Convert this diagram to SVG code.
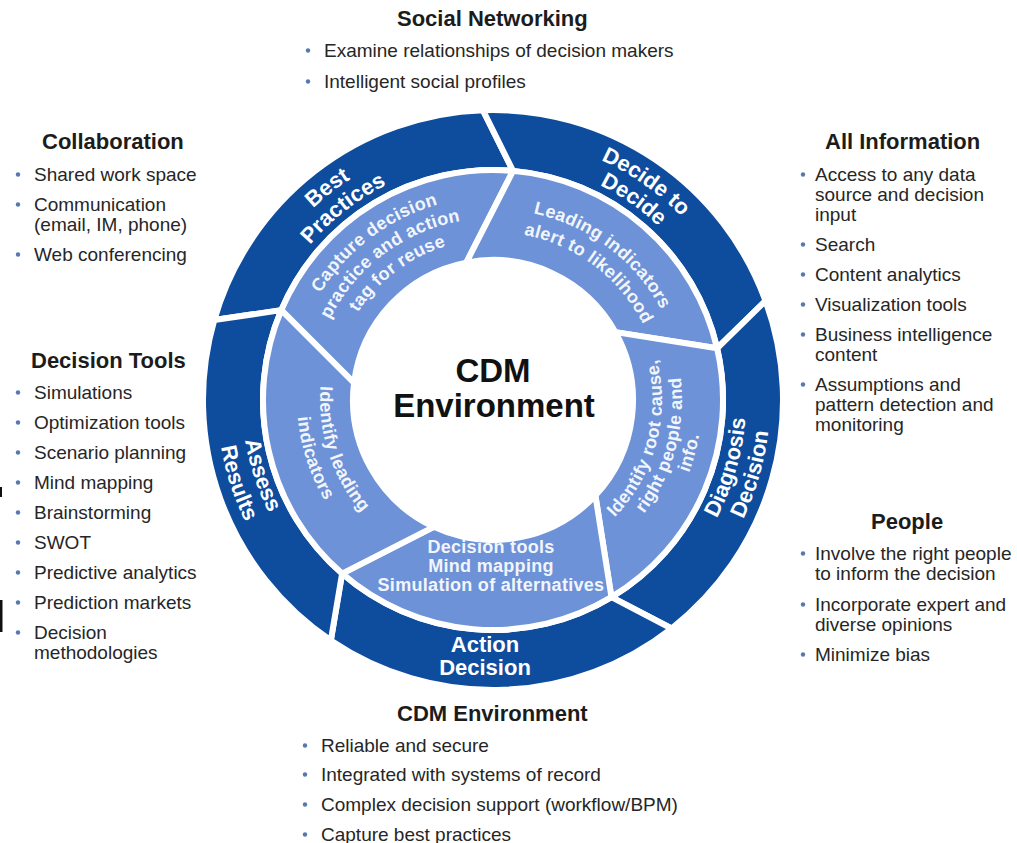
<svg xmlns="http://www.w3.org/2000/svg" xmlns:xlink="http://www.w3.org/1999/xlink" width="1017" height="843" viewBox="0 0 1017 843">
  <style>
    .seg-dark { fill: #0E4C9D; stroke: #ffffff; stroke-width: 6; stroke-linejoin: round; }
    .seg-light { fill: #6D92D7; stroke: #ffffff; stroke-width: 6; stroke-linejoin: round; }
    .lbl-dark { font-family: "Liberation Sans", Arial, sans-serif; font-weight: bold; font-size: 22px; fill: #ffffff; text-anchor: middle; }
    .lbl-light { font-family: "Liberation Sans", Arial, sans-serif; font-weight: bold; font-size: 18px; fill: #F2F5FC; text-anchor: middle; letter-spacing: 0.3px; }
    .core { font-family: "Liberation Sans", Arial, sans-serif; font-weight: bold; font-size: 33px; fill: #111111; text-anchor: middle; }
    .hd { font-family: "Liberation Sans", Arial, sans-serif; font-weight: bold; font-size: 22px; fill: #1c1c1c; }
    .it { font-family: "Liberation Sans", Arial, sans-serif; font-size: 19px; fill: #262626; }
    .bul { fill: #5778AE; }
  </style>
  <defs>
    <!-- outer ring label arcs -->
    <path id="arc-bp1" d="M242.87,481.27 A263,263 0 0 1 632.37,176.96"/>
    <path id="arc-bp2" d="M264.75,474.16 A240,240 0 0 1 620.18,196.47"/>
    <path id="arc-dd1" d="M342.15,184.56 A263,263 0 0 1 747.04,468.07"/>
    <path id="arc-dd2" d="M355.34,203.40 A240,240 0 0 1 724.82,462.12"/>
    <path id="arc-dg1" d="M510.65,652.38 A253,253 0 0 0 641.71,195.32"/>
    <path id="arc-dg2" d="M512.32,676.32 A277,277 0 0 0 655.82,175.90"/>
    <path id="arc-ar1" d="M338.47,202.21 A251,251 0 0 0 484.24,650.85"/>
    <path id="arc-ar2" d="M323.08,182.51 A276,276 0 0 0 483.37,675.83"/>
    <!-- inner ring label arcs -->
    <path id="arc-cp1" d="M298.87,459.35 A203,203 0 0 1 603.56,229.75"/>
    <path id="arc-cp2" d="M318.95,453.21 A182,182 0 0 1 592.12,247.36"/>
    <path id="arc-cp3" d="M339.04,447.07 A161,161 0 0 1 580.69,264.97"/>
    <path id="arc-li1" d="M388.97,239.81 A191,191 0 0 1 675.65,455.84"/>
    <path id="arc-li2" d="M401.50,259.10 A168,168 0 0 1 653.66,449.12"/>
    <path id="arc-rc1" d="M507.73,568.36 A169,169 0 0 0 589.93,261.56"/>
    <path id="arc-rc2" d="M509.47,588.28 A189,189 0 0 0 601.41,245.18"/>
    <path id="arc-rc3" d="M511.22,608.20 A209,209 0 0 0 612.88,228.80"/>
    <path id="arc-il1" d="M386.49,263.67 A173,173 0 0 0 486.96,572.89"/>
    <path id="arc-il2" d="M372.33,245.55 A196,196 0 0 0 486.16,595.88"/>
  </defs>

  <rect width="1017" height="843" fill="#ffffff"/>

  <!-- outer ring: decision stages -->
  <g id="stage-best-practices">
    <path class="seg-dark" d="M214.23,320.06 A290,290 0 0 1 482.88,110.18 L513.05,170.88 A230,230 0 0 0 281.28,310.13 Z"/>
    <text class="lbl-dark"><textPath xlink:href="#arc-bp1" href="#arc-bp1" startOffset="50%">Best</textPath></text>
    <text class="lbl-dark"><textPath xlink:href="#arc-bp2" href="#arc-bp2" startOffset="50%">Practices</textPath></text>
  </g>
  <g id="stage-decide-to-decide">
    <path class="seg-dark" d="M482.88,110.18 A290,290 0 0 1 765.51,300.81 L717.11,348.26 A230,230 0 0 0 513.05,170.88 Z"/>
    <text class="lbl-dark"><textPath xlink:href="#arc-dd1" href="#arc-dd1" startOffset="50%">Decide to</textPath></text>
    <text class="lbl-dark"><textPath xlink:href="#arc-dd2" href="#arc-dd2" startOffset="50%">Decide</textPath></text>
  </g>
  <g id="stage-diagnosis-decision">
    <path class="seg-dark" d="M765.51,300.81 A290,290 0 0 1 671.54,628.52 L611.46,597.15 A230,230 0 0 0 717.11,348.26 Z"/>
    <text class="lbl-dark"><textPath xlink:href="#arc-dg1" href="#arc-dg1" startOffset="50%">Diagnosis</textPath></text>
    <text class="lbl-dark"><textPath xlink:href="#arc-dg2" href="#arc-dg2" startOffset="50%">Decision</textPath></text>
  </g>
  <g id="stage-action-decision">
    <path class="seg-dark" d="M671.54,628.52 A290,290 0 0 1 330.83,640.42 L342.11,573.58 A230,230 0 0 0 611.46,597.15 Z"/>
    <text class="lbl-dark" x="485" y="652">Action</text>
    <text class="lbl-dark" x="485" y="675">Decision</text>
  </g>
  <g id="stage-assess-results">
    <path class="seg-dark" d="M330.83,640.42 A290,290 0 0 1 214.23,320.06 L281.28,310.13 A230,230 0 0 0 342.11,573.58 Z"/>
    <text class="lbl-dark"><textPath xlink:href="#arc-ar1" href="#arc-ar1" startOffset="50%">Assess</textPath></text>
    <text class="lbl-dark"><textPath xlink:href="#arc-ar2" href="#arc-ar2" startOffset="50%">Results</textPath></text>
  </g>

  <!-- inner ring: activities -->
  <g id="activity-capture">
    <path class="seg-light" d="M281.28,310.13 A230,230 0 0 1 513.05,170.88 L466.29,262.57 A140,140 0 0 0 354.04,382.94 Z"/>
    <text class="lbl-light"><textPath xlink:href="#arc-cp1" href="#arc-cp1" startOffset="50%">Capture decision</textPath></text>
    <text class="lbl-light"><textPath xlink:href="#arc-cp2" href="#arc-cp2" startOffset="50%">practice and action</textPath></text>
    <text class="lbl-light"><textPath xlink:href="#arc-cp3" href="#arc-cp3" startOffset="50%">tag for reuse</textPath></text>
  </g>
  <g id="activity-leading-alert">
    <path class="seg-light" d="M513.05,170.88 A230,230 0 0 1 717.11,348.26 L615.45,332.13 A140,140 0 0 0 466.29,262.57 Z"/>
    <text class="lbl-light"><textPath xlink:href="#arc-li1" href="#arc-li1" startOffset="50%">Leading indicators</textPath></text>
    <text class="lbl-light"><textPath xlink:href="#arc-li2" href="#arc-li2" startOffset="50%">alert to likelihood</textPath></text>
  </g>
  <g id="activity-root-cause">
    <path class="seg-light" d="M717.11,348.26 A230,230 0 0 1 611.46,597.15 L595.39,495.48 A140,140 0 0 0 615.45,332.13 Z"/>
    <text class="lbl-light"><textPath xlink:href="#arc-rc1" href="#arc-rc1" startOffset="50%">Identify root cause,</textPath></text>
    <text class="lbl-light"><textPath xlink:href="#arc-rc2" href="#arc-rc2" startOffset="50%">right people and</textPath></text>
    <text class="lbl-light"><textPath xlink:href="#arc-rc3" href="#arc-rc3" startOffset="50%">info.</textPath></text>
  </g>
  <g id="activity-decision-tools">
    <path class="seg-light" d="M611.46,597.15 A230,230 0 0 1 342.11,573.58 L433.83,526.88 A140,140 0 0 0 595.39,495.48 Z"/>
    <text class="lbl-light" x="491" y="553">Decision tools</text>
    <text class="lbl-light" x="491" y="572">Mind mapping</text>
    <text class="lbl-light" x="491" y="591">Simulation of alternatives</text>
  </g>
  <g id="activity-identify-leading">
    <path class="seg-light" d="M342.11,573.58 A230,230 0 0 1 281.28,310.13 L354.04,382.94 A140,140 0 0 0 433.83,526.88 Z"/>
    <text class="lbl-light"><textPath xlink:href="#arc-il1" href="#arc-il1" startOffset="50%">Identify leading</textPath></text>
    <text class="lbl-light"><textPath xlink:href="#arc-il2" href="#arc-il2" startOffset="50%">indicators</textPath></text>
  </g>

  <!-- hub -->
  <g id="hub">
    <text class="core" x="493" y="382">CDM</text>
    <text class="core" x="494" y="417">Environment</text>
  </g>

  <!-- capability lists -->
  <g id="list-social-networking">
    <text class="hd" x="397" y="26">Social Networking</text>
    <circle class="bul" cx="308" cy="50.5" r="2.2"/>
    <text class="it" x="324" y="57">Examine relationships of decision makers</text>
    <circle class="bul" cx="308" cy="81.5" r="2.2"/>
    <text class="it" x="324" y="88">Intelligent social profiles</text>
  </g>

  <g id="list-collaboration">
    <text class="hd" x="42" y="149">Collaboration</text>
    <circle class="bul" cx="18" cy="174.5" r="2.2"/>
    <text class="it" x="34" y="181">Shared work space</text>
    <circle class="bul" cx="18" cy="204.5" r="2.2"/>
    <text class="it" x="34" y="211">Communication</text>
    <text class="it" x="34" y="231">(email, IM, phone)</text>
    <circle class="bul" cx="18" cy="254.5" r="2.2"/>
    <text class="it" x="34" y="261">Web conferencing</text>
  </g>

  <g id="list-decision-tools">
    <text class="hd" x="31" y="368">Decision Tools</text>
    <circle class="bul" cx="18" cy="392.5" r="2.2"/>
    <text class="it" x="34" y="399">Simulations</text>
    <circle class="bul" cx="18" cy="422.5" r="2.2"/>
    <text class="it" x="34" y="429">Optimization tools</text>
    <circle class="bul" cx="18" cy="452.5" r="2.2"/>
    <text class="it" x="34" y="459">Scenario planning</text>
    <circle class="bul" cx="18" cy="482.5" r="2.2"/>
    <text class="it" x="34" y="489">Mind mapping</text>
    <circle class="bul" cx="18" cy="512.5" r="2.2"/>
    <text class="it" x="34" y="519">Brainstorming</text>
    <circle class="bul" cx="18" cy="542.5" r="2.2"/>
    <text class="it" x="34" y="549">SWOT</text>
    <circle class="bul" cx="18" cy="572.5" r="2.2"/>
    <text class="it" x="34" y="579">Predictive analytics</text>
    <circle class="bul" cx="18" cy="602.5" r="2.2"/>
    <text class="it" x="34" y="609">Prediction markets</text>
    <circle class="bul" cx="18" cy="632.5" r="2.2"/>
    <text class="it" x="34" y="639">Decision</text>
    <text class="it" x="34" y="659">methodologies</text>
  </g>

  <g id="list-all-information">
    <text class="hd" x="825" y="149">All Information</text>
    <circle class="bul" cx="803" cy="174.5" r="2.2"/>
    <text class="it" x="815" y="181">Access to any data</text>
    <text class="it" x="815" y="201">source and decision</text>
    <text class="it" x="815" y="221">input</text>
    <circle class="bul" cx="803" cy="244.5" r="2.2"/>
    <text class="it" x="815" y="251">Search</text>
    <circle class="bul" cx="803" cy="274.5" r="2.2"/>
    <text class="it" x="815" y="281">Content analytics</text>
    <circle class="bul" cx="803" cy="304.5" r="2.2"/>
    <text class="it" x="815" y="311">Visualization tools</text>
    <circle class="bul" cx="803" cy="334.5" r="2.2"/>
    <text class="it" x="815" y="341">Business intelligence</text>
    <text class="it" x="815" y="361">content</text>
    <circle class="bul" cx="803" cy="384.5" r="2.2"/>
    <text class="it" x="815" y="391">Assumptions and</text>
    <text class="it" x="815" y="411">pattern detection and</text>
    <text class="it" x="815" y="431">monitoring</text>
  </g>

  <g id="list-people">
    <text class="hd" x="871" y="529">People</text>
    <circle class="bul" cx="803" cy="553.5" r="2.2"/>
    <text class="it" x="815" y="560">Involve the right people</text>
    <text class="it" x="815" y="580">to inform the decision</text>
    <circle class="bul" cx="803" cy="604.5" r="2.2"/>
    <text class="it" x="815" y="611">Incorporate expert and</text>
    <text class="it" x="815" y="631">diverse opinions</text>
    <circle class="bul" cx="803" cy="654.5" r="2.2"/>
    <text class="it" x="815" y="661">Minimize bias</text>
  </g>

  <g id="list-cdm-environment">
    <text class="hd" x="397" y="721">CDM Environment</text>
    <circle class="bul" cx="305" cy="745.5" r="2.2"/>
    <text class="it" x="321" y="752">Reliable and secure</text>
    <circle class="bul" cx="305" cy="774.5" r="2.2"/>
    <text class="it" x="321" y="781">Integrated with systems of record</text>
    <circle class="bul" cx="305" cy="804.5" r="2.2"/>
    <text class="it" x="321" y="811">Complex decision support (workflow/BPM)</text>
    <circle class="bul" cx="305" cy="834.5" r="2.2"/>
    <text class="it" x="321" y="841">Capture best practices</text>
  </g>

  <!-- edge marks at the left border -->
  <rect x="0" y="487" width="2" height="10" fill="#111111"/>
  <rect x="0" y="600" width="2.5" height="32" fill="#111111"/>
</svg>
